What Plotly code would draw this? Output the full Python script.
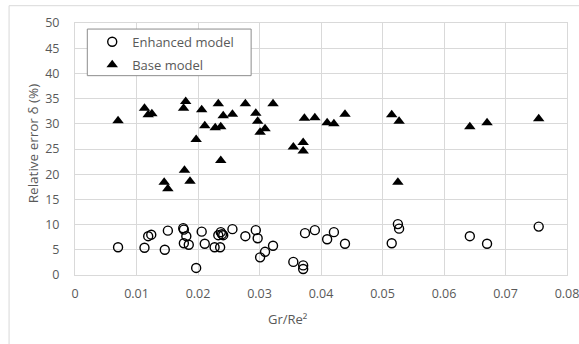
import plotly.graph_objects as go

# Enhanced model (open circles)
enh_x = [0.0070, 0.0113, 0.0119, 0.0124, 0.0146, 0.0151, 0.0176, 0.0177, 0.0181, 0.0177,
         0.0185, 0.0197, 0.0206, 0.0211, 0.0227, 0.0236, 0.0233, 0.0237, 0.0239, 0.0241,
         0.0256, 0.0277, 0.0294, 0.0297, 0.0301, 0.0309, 0.0322, 0.0355, 0.0371, 0.0371,
         0.0374, 0.0390, 0.0410, 0.0421, 0.0439, 0.0515, 0.0525, 0.0527, 0.0642, 0.0670,
         0.0754]
enh_y = [5.5, 5.4, 7.7, 8.0, 5.0, 8.8, 9.3, 9.0, 7.7, 6.3,
         6.0, 1.4, 8.6, 6.2, 5.5, 5.5, 7.9, 8.5, 8.1, 7.9,
         9.1, 7.7, 8.9, 7.3, 3.5, 4.6, 5.8, 2.6, 1.9, 1.2,
         8.3, 8.9, 7.1, 8.5, 6.2, 6.3, 10.1, 9.2, 7.7, 6.2,
         9.6]

# Base model (filled triangles)
base_x = [0.0070, 0.0113, 0.0119, 0.0125, 0.0145, 0.0151, 0.01765, 0.0180, 0.0178, 0.0187,
          0.0197, 0.0206, 0.0211, 0.0228, 0.0237, 0.0233, 0.0237, 0.0241, 0.0256, 0.0277,
          0.0294, 0.0297, 0.0301, 0.0309, 0.0322, 0.0355, 0.0371, 0.0371, 0.0373, 0.0390,
          0.0410, 0.0421, 0.0439, 0.0515, 0.0527, 0.0525, 0.0642, 0.0670, 0.0754]
base_y = [30.6, 33.1, 31.8, 32.0, 18.4, 17.1, 33.1, 34.4, 20.8, 18.6,
          26.9, 32.8, 29.6, 29.2, 29.4, 34.0, 22.7, 31.6, 31.9, 34.0,
          32.1, 30.5, 28.3, 29.0, 34.0, 25.4, 26.3, 24.6, 31.1, 31.2,
          30.2, 30.0, 31.9, 31.8, 30.5, 18.4, 29.4, 30.2, 31.0]

x_ticks = [0, 0.01, 0.02, 0.03, 0.04, 0.05, 0.06, 0.07, 0.08]
x_ticktext = ["0", "0.01", "0.02", "0.03", "0.04", "0.05", "0.06", "0.07", "0.08"]
y_ticks = [0, 5, 10, 15, 20, 25, 30, 35, 40, 45, 50]

FONT = "Open Sans"
GRAY = "#595959"
GRID = "#d9d9d9"

fig = go.Figure()
fig.add_trace(go.Scatter(
    x=enh_x, y=enh_y, mode="markers", name="Enhanced model", legendgroup="a",
    marker=dict(symbol="circle-open", size=9, color="black", line=dict(width=1.4, color="black")),
))
fig.add_trace(go.Scatter(
    x=base_x, y=base_y, mode="markers", name="Base model", legendgroup="b",
    marker=dict(symbol="triangle-up", size=10, color="black"),
))

fig.update_layout(
    width=579, height=344,
    margin=dict(l=75, r=12, t=23, b=69, autoexpand=False),
    paper_bgcolor="white", plot_bgcolor="white",
    font=dict(family=FONT, color=GRAY, size=12),
    showlegend=True,
    legend=dict(
        x=0.035, y=0.985, xanchor="left", yanchor="top",
        bgcolor="rgba(0,0,0,0)", borderwidth=0,
        font=dict(family=FONT, size=13, color=GRAY),
        tracegroupgap=3, itemwidth=30,
    ),
    xaxis=dict(
        range=[0, 0.08], tickvals=x_ticks, ticktext=x_ticktext,
        showgrid=True, gridcolor=GRID, gridwidth=1, zeroline=False,
        showline=True, linecolor=GRID, mirror=True, automargin=False,
        ticks="", ticklabelstandoff=7, ticklabeloverflow="allow",
        tickfont=dict(family=FONT, size=12.5, color=GRAY),
    ),
    yaxis=dict(
        range=[0, 50], tickvals=y_ticks,
        showgrid=True, gridcolor=GRID, gridwidth=1, zeroline=False,
        showline=True, linecolor=GRID, mirror=True, automargin=False,
        ticks="", ticklabelstandoff=12,
        tickfont=dict(family=FONT, size=12.5, color=GRAY),
    ),
    shapes=[
        # outer chart frame
        dict(type="rect", xref="paper", yref="paper", x0=-0.134, x1=1.6, y0=-1.0, y1=1.0687,
             line=dict(color=GRID, width=1), fillcolor="rgba(0,0,0,0)", layer="below"),
        # legend box
        dict(type="rect", xref="paper", yref="paper", x0=0.025, x1=0.358, y0=0.791, y1=0.976,
             line=dict(color="#8c8c8c", width=1), fillcolor="white", layer="above"),
    ],
    annotations=[
        dict(text="Gr/Re²", xref="paper", yref="paper", x=0.4325, y=-0.173,
             xanchor="center", yanchor="middle", showarrow=False,
             font=dict(family=FONT, size=13, color=GRAY)),
        dict(text="Relative error δ (%)", xref="paper", yref="paper", x=-0.0853, y=0.519,
             xanchor="center", yanchor="middle", showarrow=False, textangle=-90,
             font=dict(family=FONT, size=13.5, color=GRAY)),
    ],
)

fig.write_html("out.html")
